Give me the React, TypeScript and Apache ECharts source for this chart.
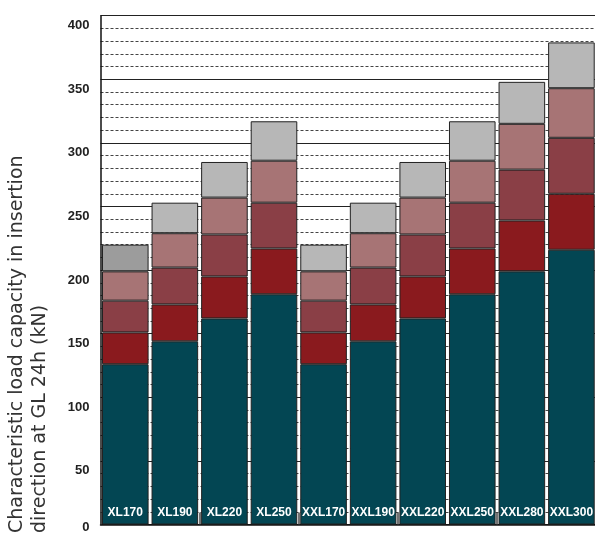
import React, { useEffect, useRef } from "react";
import * as echarts from "echarts";

const categories = ["XL170", "XL190", "XL220", "XL250", "XXL170", "XXL190", "XXL220", "XXL250", "XXL280", "XXL300"];
const seriesTeal = [126, 144, 162, 181, 126, 144, 162, 181, 199, 216];
const seriesRed = [25, 29, 33, 36, 25, 29, 33, 36, 40, 44];
const seriesMaroon = [25, 29, 33, 36, 25, 29, 33, 36, 40, 44];
const seriesPink = [23, 27, 29, 33, 23, 27, 29, 33, 36, 39];
const seriesGrey = [21, 24, 28, 31, 21, 24, 28, 31, 33, 36];
const yTickValues = [0, 50, 100, 150, 200, 250, 300, 350, 400];
const yTitleLines = ["Characteristic load capacity in insertion", "direction at GL 24h (kN)"];

const colors = ["#034653", "#8a1a1e", "#8a3f46", "#a77475", "#b7b7b7"];
const darkGrey = "#9c9c9c";

export default function App() {
  const ref = useRef<HTMLDivElement>(null);
  useEffect(() => {
    if (!ref.current) return;
    const chart = echarts.init(ref.current, null, { renderer: "svg" });
    const border = { borderColor: "#222", borderWidth: 1 };
    const labelFont = { fontFamily: "Liberation Sans, Arial, sans-serif", fontWeight: "bold", fontSize: 13, color: "#222" };
    const mk = (name: string, data: any[], color: string, extra: any = {}) => ({
      name,
      type: "bar",
      stack: "total",
      barCategoryGap: "6%",
      data,
      itemStyle: { color, ...border },
      emphasis: { disabled: true },
      ...extra,
    });
    chart.setOption({
      animation: false,
      grid: { left: 100.5, right: -1.2, top: 15.7, bottom: 9.5, containLabel: false, outerBoundsMode: "none" },
      xAxis: {
        type: "category",
        data: categories,
        axisLine: { show: true, lineStyle: { color: "#111", width: 1.5 } },
        axisTick: { show: true, inside: true, length: 12, lineStyle: { color: "#444", width: 1.5 } },
        axisLabel: { show: false },
        splitLine: { show: false },
      },
      yAxis: {
        type: "value",
        min: 0,
        max: 400,
        interval: 50,
        axisLine: { show: true, lineStyle: { color: "#111", width: 1.5 } },
        axisTick: { show: false },
        axisLabel: {
          margin: 11,
          ...labelFont,
          verticalAlign: "top",
          lineHeight: 18,
          formatter: (v: number) => (v === 0 ? "{z|0}" : yTickValues.includes(v) ? String(v) : ""),
          rich: { z: { ...labelFont, lineHeight: 4 } },
        },
        splitLine: { show: true, lineStyle: { color: "#222", width: 1 } },
        minorTick: { show: false, splitNumber: 5 },
        minorSplitLine: { show: true, lineStyle: { color: "#444", width: 1, type: [3, 2] } },
      },
      series: [
        mk("s1", seriesTeal, colors[0], {
          label: {
            show: true,
            position: "insideBottom",
            distance: 7,
            formatter: "{b}",
            color: "#fff",
            fontFamily: "Liberation Sans, Arial, sans-serif",
            fontWeight: "bold",
            fontSize: 12,
          },
        }),
        mk("s2", seriesRed, colors[1]),
        mk("s3", seriesMaroon, colors[2]),
        mk("s4", seriesPink, colors[3]),
        mk(
          "s5",
          seriesGrey.map((v, i) => (i === 0 ? { value: v, itemStyle: { color: darkGrey } } : v)),
          colors[4]
        ),
      ],
      graphic: [
        {
          type: "text",
          x: 3.5,
          y: 533,
          rotation: Math.PI / 2,
          style: {
            text: yTitleLines.join("\n"),
            fontFamily: "DejaVu Sans, Verdana, sans-serif",
            fontSize: 19,
            lineHeight: 23,
            fill: "#333",
            align: "left",
            verticalAlign: "top",
          },
        },
      ],
    });
    return () => chart.dispose();
  }, []);
  return <div ref={ref} style={{ position: "fixed", left: 0, top: 0, width: 595, height: 534 }} />;
}
